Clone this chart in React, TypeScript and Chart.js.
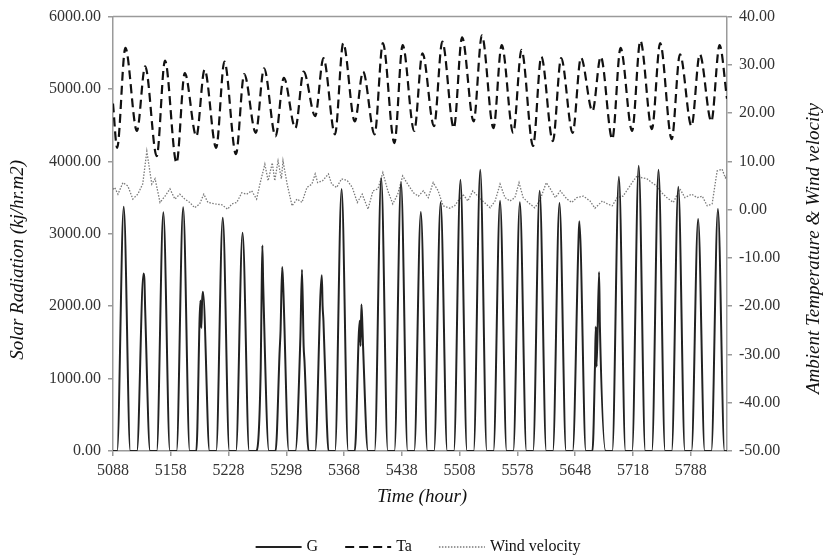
import React, { useEffect, useRef } from 'react';
import { Chart, registerables } from 'chart.js';

Chart.register(...registerables);

// ---------- axis ranges / labels ----------
const START_HOUR = 5088;
const END_HOUR = 5832;
const xTickValues = [5088, 5158, 5228, 5298, 5368, 5438, 5508, 5578, 5648, 5718, 5788];
const xTitle = 'Time (hour)';
const leftTitle = 'Solar Radiation (kj/hr.m2)';
const rightTitle = 'Ambient Temperature & Wind velocity';

// ---------- G : solar radiation (kj/hr.m2), one bell per day ----------
const gSunriseHour = 5;
const gNoonHour = 13;
const gSunsetHour = 21;
const gDailyPeak = [
  3375, 2450, 3297, 3366, 2200, 3220, 3013, 2840, 2540, 2504, 2426,
  3619, 2023, 3770, 3710, 3300, 3435, 3746, 3884, 3457, 3435, 3595,
  3425, 3173, 2471, 3788, 3940, 3884, 3650, 3206, 3343,
];
// cloudy-day irregularities: [day, hour of day, G]
const gIrregular: [number, number, number][] = [
  [1, 14, 2380], [1, 15, 1950],
  [4, 10, 2080], [4, 11, 1700], [4, 12, 2080],
  [7, 11, 1150], [7, 12, 2100], [7, 14, 2300],
  [8, 10, 1400], [8, 11, 1650], [8, 14, 2350],
  [9, 11, 1550], [9, 15, 1450], [9, 16, 1250],
  [10, 14, 2000], [10, 15, 1800], [10, 19, 430],
  [12, 11, 1800], [12, 12, 1450], [12, 14, 1800], [12, 15, 1450],
  [23, 12, 2880],
  [24, 8, 1165], [24, 9, 1715], [24, 10, 1165], [24, 14, 1715],
];

// ---------- Ta : ambient temperature (daily min near 05h, max near 15h) ----------
const taStartValue = 22.0;
const taEndValue = 23.0;
const taMinHour = 5;
const taMaxHour = 15;
const taDailyMin = [
  12.8, 16.3, 11.1, 9.7, 15.2, 12.8, 11.5, 15.9, 15.2, 16.9, 19.4,
  15.6, 18.3, 15.6, 13.8, 16.3, 17.3, 16.9, 18.3, 16.9, 15.9, 13.2,
  14.2, 15.9, 20.4, 14.6, 16.3, 16.7, 14.6, 17.3, 18.3,
];
const taDailyMax = [
  33.5, 29.7, 30.9, 28.3, 29.0, 30.7, 28.1, 29.3, 27.3, 28.6, 31.4,
  34.5, 28.6, 34.5, 34.1, 32.4, 34.8, 35.7, 36.1, 34.1, 33.1, 31.7,
  31.4, 31.5, 31.7, 33.5, 35.0, 34.5, 32.2, 32.2, 34.1,
];

// ---------- Wind velocity : [hours after 5088, value] ----------
const windSeries: [number, number][] = [
  [0, 4.2], [2, 4.6], [6, 3.2], [12, 5.6], [18, 4.9], [24, 2.2], [30, 3.2],
  [36, 5.3], [41, 12.1], [47, 5.3], [51, 6.4], [57, 1.5], [63, 2.8], [69, 4.3],
  [75, 2.2], [81, 3.2], [87, 2.2], [93, 1.5], [99, 0.4], [105, 1.2], [110, 3.2],
  [115, 1.5], [124, 1.2], [132, 1.0], [139, 0.1], [144, 1.2], [150, 1.5],
  [156, 3.5], [162, 3.2], [168, 3.9], [174, 2.2], [178, 5.3], [184, 9.4],
  [188, 6.0], [193, 9.7], [196, 6.0], [200, 10.1], [204, 6.4], [206, 10.1],
  [211, 5.3], [217, 0.8], [223, 2.2], [229, 1.5], [235, 4.6], [241, 5.3],
  [245, 7.4], [248, 5.6], [254, 6.0], [261, 7.4], [265, 5.3], [271, 4.6],
  [277, 6.4], [284, 6.0], [290, 4.6], [296, 1.5], [302, 3.2], [309, 0.1],
  [315, 3.9], [321, 4.3], [327, 7.7], [333, 3.9], [339, 1.2], [345, 3.2],
  [351, 7.0], [357, 5.3], [364, 3.5], [370, 2.8], [376, 3.9], [382, 2.5],
  [388, 5.6], [394, 3.9], [400, 0.8], [408, 0.3], [414, 0.8], [424, 3.2],
  [430, 1.8], [436, 3.9], [442, 2.8], [448, 1.8], [457, 0.4], [463, 1.8],
  [469, 5.3], [475, 2.5], [481, 1.8], [487, 2.5], [492, 5.6], [497, 2.5],
  [503, 1.5], [511, 0.4], [517, 1.8], [525, 5.6], [530, 4.3], [536, 2.5],
  [542, 3.9], [550, 2.2], [556, 1.5], [562, 2.5], [570, 2.8], [578, 1.8],
  [584, 0.3], [593, 1.8], [599, 1.2], [605, 0.8], [611, 2.5], [618, 2.8],
  [624, 4.3], [629, 5.6], [635, 7.0], [641, 6.6], [647, 6.4], [653, 5.6],
  [659, 4.9], [665, 3.5], [671, 2.5], [679, 1.5], [687, 4.3], [693, 2.5],
  [701, 3.2], [708, 2.5], [714, 2.8], [720, 0.8], [726, 1.2], [732, 8.0],
  [738, 8.4], [742, 6.6], [744, 7.2],
];

type Pt = { x: number; y: number };

function buildG(): Pt[] {
  const pts: Pt[] = [{ x: START_HOUR, y: 0 }];
  gDailyPeak.forEach((peak, d) => {
    const m = new Map<number, number>();
    m.set(gSunriseHour, 0);
    m.set(gNoonHour, peak);
    m.set(gSunsetHour, 0);
    gIrregular.filter((r) => r[0] === d).forEach(([, h, v]) => m.set(h, v));
    [...m.entries()]
      .sort((a, b) => a[0] - b[0])
      .forEach(([h, v]) => pts.push({ x: START_HOUR + 24 * d + h, y: v }));
  });
  pts.push({ x: END_HOUR, y: 0 });
  return pts;
}

function buildTa(): Pt[] {
  const pts: Pt[] = [{ x: START_HOUR, y: taStartValue }];
  taDailyMin.forEach((mn, d) => {
    pts.push({ x: START_HOUR + 24 * d + taMinHour, y: mn });
    pts.push({ x: START_HOUR + 24 * d + taMaxHour, y: taDailyMax[d] });
  });
  pts.push({ x: END_HOUR, y: taEndValue });
  return pts;
}

function buildWind(): Pt[] {
  return windSeries.map(([h, v]) => ({ x: START_HOUR + h, y: v }));
}

const AXIS_GRAY = '#9a9a9a';
const TICK_COLOR = '#333333';
const SERIF = '"Liberation Serif", "Times New Roman", serif';

const decorPlugin = {
  id: 'decor',
  afterDraw(chart: any) {
    const { ctx, chartArea: a } = chart;
    ctx.save();
    // top frame line
    ctx.strokeStyle = AXIS_GRAY;
    ctx.lineWidth = 1.5;
    ctx.beginPath();
    ctx.moveTo(a.left, a.top);
    ctx.lineTo(a.right, a.top);
    ctx.stroke();

    // axis titles
    ctx.fillStyle = '#111';
    ctx.font = `italic 19px ${SERIF}`;
    ctx.textAlign = 'center';
    ctx.textBaseline = 'middle';
    ctx.fillText(xTitle, (a.left + a.right) / 2 + 2, a.bottom + 46);

    ctx.save();
    ctx.translate(18, a.top + (a.bottom - a.top) * 0.56);
    ctx.rotate(-Math.PI / 2);
    ctx.fillText(leftTitle, 0, 0);
    ctx.restore();

    ctx.save();
    ctx.translate(814, a.top + (a.bottom - a.top) * 0.534);
    ctx.rotate(-Math.PI / 2);
    ctx.fillText(rightTitle, 0, 0);
    ctx.restore();

    // legend
    ctx.font = `16px ${SERIF}`;
    ctx.textAlign = 'left';
    const lineLen = 46;
    const gapText = 5;
    const gapItem = 27;
    const items = chart.data.datasets.map((ds: any) => ({
      label: ds.label,
      color: ds.borderColor,
      width: ds.borderWidth,
      dash: ds.borderDash || [],
      tw: ctx.measureText(ds.label).width,
    }));
    const total = items.reduce((s: number, it: any) => s + lineLen + gapText + it.tw, 0) + gapItem * (items.length - 1);
    let x = 418 - total / 2;
    const y = a.bottom + 96;
    items.forEach((it: any) => {
      ctx.strokeStyle = it.color;
      ctx.lineWidth = it.width;
      ctx.setLineDash(it.dash);
      ctx.beginPath();
      ctx.moveTo(x, y);
      ctx.lineTo(x + lineLen, y);
      ctx.stroke();
      ctx.setLineDash([]);
      ctx.fillStyle = '#111';
      ctx.fillText(it.label, x + lineLen + gapText, y);
      x += lineLen + gapText + it.tw + gapItem;
    });
    ctx.restore();
  },
};

export default function App() {
  const canvasRef = useRef<HTMLCanvasElement | null>(null);

  useEffect(() => {
    if (!canvasRef.current) return;
    Chart.defaults.font.family = SERIF;
    const tickFont = { family: SERIF, size: 16 };
    const gridOpts = {
      drawOnChartArea: false,
      drawTicks: true,
      tickLength: 5,
      color: AXIS_GRAY,
      lineWidth: 1.5,
    };
    const borderOpts = { display: true, color: AXIS_GRAY, width: 1.5 };

    const chart = new Chart(canvasRef.current, {
      type: 'line',
      data: {
        datasets: [
          {
            label: 'G',
            data: buildG(),
            yAxisID: 'y',
            borderColor: '#222222',
            borderWidth: 2,
            pointRadius: 0,
            cubicInterpolationMode: 'monotone',
            fill: false,
          },
          {
            label: 'Ta',
            data: buildTa(),
            yAxisID: 'y1',
            borderColor: '#111111',
            borderWidth: 2.2,
            borderDash: [9, 5],
            pointRadius: 0,
            cubicInterpolationMode: 'monotone',
            fill: false,
          },
          {
            label: 'Wind velocity',
            data: buildWind(),
            yAxisID: 'y1',
            borderColor: '#7a7a7a',
            borderWidth: 1.3,
            borderDash: [1.5, 1.5],
            pointRadius: 0,
            tension: 0,
            fill: false,
          },
        ] as any,
      },
      options: {
        responsive: false,
        animation: false,
        devicePixelRatio: 1,
        layout: { padding: { top: 15, left: 0, right: 0, bottom: 0 } },
        plugins: { legend: { display: false }, tooltip: { enabled: false } },
        scales: {
          x: {
            type: 'linear',
            min: START_HOUR,
            max: END_HOUR,
            afterBuildTicks: (s: any) => {
              s.ticks = xTickValues.map((v) => ({ value: v }));
            },
            afterFit: (s: any) => {
              s.height = 107;
            },
            ticks: {
              font: tickFont,
              color: TICK_COLOR,
              padding: 5,
              maxRotation: 0,
              autoSkip: false,
              callback: (v: any) => String(v),
            },
            grid: gridOpts,
            border: borderOpts,
          },
          y: {
            position: 'left',
            min: 0,
            max: 6000,
            afterFit: (s: any) => {
              s.width = 113;
            },
            ticks: {
              stepSize: 1000,
              font: tickFont,
              color: TICK_COLOR,
              padding: 7,
              callback: (v: any) => Number(v).toFixed(2),
            },
            grid: gridOpts,
            border: borderOpts,
          },
          y1: {
            position: 'right',
            min: -50,
            max: 40,
            afterFit: (s: any) => {
              s.width = 99;
            },
            ticks: {
              stepSize: 10,
              font: tickFont,
              color: TICK_COLOR,
              padding: 7,
              callback: (v: any) => Number(v).toFixed(2),
            },
            grid: gridOpts,
            border: borderOpts,
          },
        },
      } as any,
      plugins: [decorPlugin],
    });
    return () => chart.destroy();
  }, []);

  return (
    <div style={{ position: 'absolute', left: 0, top: 0, width: 826, height: 558, background: '#fff' }}>
      <canvas ref={canvasRef} width={826} height={558} />
    </div>
  );
}
